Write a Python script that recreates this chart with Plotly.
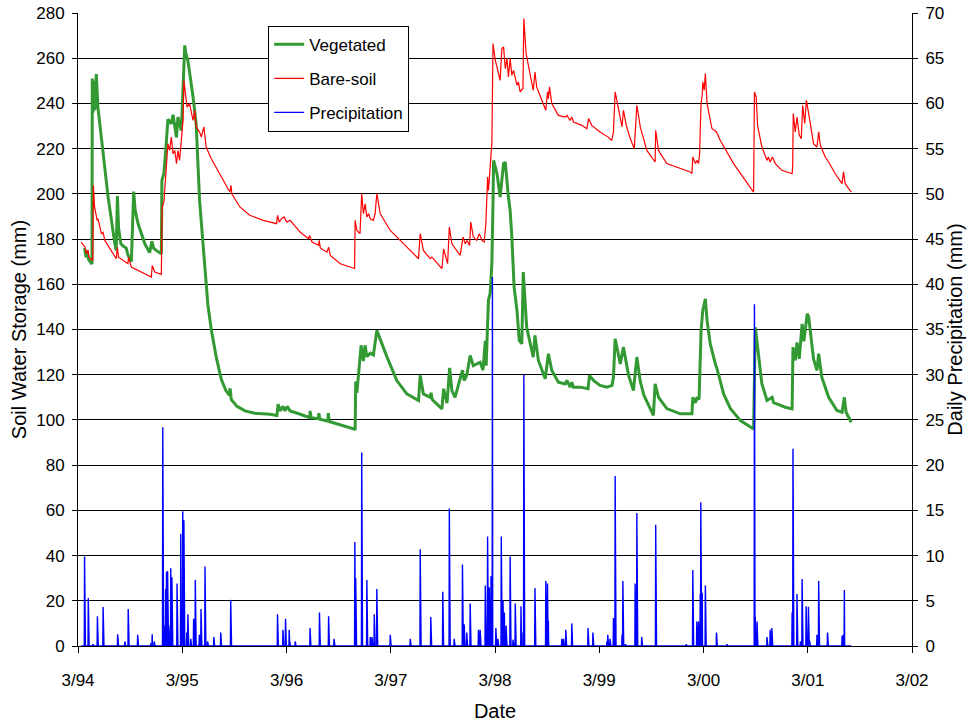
import pandas as pd
import plotly.graph_objects as go

# Soil water storage under vegetated cover (mm)
veg_dates = [
    "1994-03-24", "1994-03-29", "1994-04-02", "1994-04-07", "1994-04-12", "1994-04-19",
    "1994-04-20", "1994-04-23", "1994-04-26", "1994-04-29", "1994-05-04", "1994-05-10",
    "1994-05-28", "1994-06-14", "1994-07-08", "1994-07-13", "1994-07-17", "1994-07-21",
    "1994-07-29", "1994-08-05", "1994-08-17", "1994-08-23", "1994-09-04", "1994-09-12",
    "1994-09-17", "1994-09-27", "1994-10-21", "1994-11-07", "1994-11-15", "1994-11-21",
    "1994-11-30", "1994-12-18", "1994-12-20", "1994-12-27", "1995-01-04", "1995-01-10",
    "1995-01-22", "1995-01-28", "1995-02-09", "1995-02-14", "1995-02-26", "1995-03-04",
    "1995-03-10", "1995-03-14", "1995-03-21", "1995-04-08", "1995-04-19", "1995-05-01",
    "1995-05-13", "1995-05-19", "1995-05-30", "1995-06-11", "1995-06-28", "1995-07-16",
    "1995-08-01", "1995-08-13", "1995-08-16", "1995-08-20", "1995-09-09", "1995-10-07",
    "1995-11-11", "1996-01-03", "1996-01-27", "1996-01-31", "1996-02-07", "1996-02-17",
    "1996-02-24", "1996-03-03", "1996-03-13", "1996-04-18", "1996-05-21", "1996-05-22",
    "1996-05-26", "1996-06-20", "1996-06-22", "1996-06-25", "1996-07-23", "1996-07-25",
    "1996-07-28", "1996-10-24", "1996-10-27", "1996-10-29", "1996-11-02", "1996-11-17",
    "1996-11-25", "1996-12-01", "1996-12-07", "1996-12-19", "1996-12-30", "1997-01-11",
    "1997-02-15", "1997-03-22", "1997-04-26", "1997-06-06", "1997-06-12", "1997-06-23",
    "1997-07-17", "1997-07-20", "1997-07-24", "1997-08-27", "1997-09-02", "1997-09-14",
    "1997-09-23", "1997-10-01", "1997-10-12", "1997-11-07", "1997-11-13", "1997-11-22",
    "1997-12-04", "1997-12-15", "1998-01-08", "1998-01-18", "1998-01-26", "1998-01-29",
    "1998-02-01", "1998-02-06", "1998-02-12", "1998-02-18", "1998-02-22", "1998-02-24",
    "1998-03-08", "1998-03-19", "1998-03-31", "1998-04-06", "1998-04-17", "1998-04-23",
    "1998-04-29", "1998-05-07", "1998-05-17", "1998-05-25", "1998-06-03", "1998-06-08",
    "1998-06-20", "1998-07-02", "1998-07-13", "1998-07-19", "1998-07-31", "1998-08-24",
    "1998-09-04", "1998-09-16", "1998-10-09", "1998-11-02", "1998-11-08", "1998-11-19",
    "1998-11-25", "1998-12-01", "1998-12-24", "1999-01-21", "1999-01-26", "1999-02-09",
    "1999-03-04", "1999-03-28", "1999-04-15", "1999-04-20", "1999-04-26", "1999-05-14",
    "1999-05-25", "1999-06-12", "1999-06-29", "1999-07-11", "1999-07-23", "1999-08-05",
    "1999-09-07", "1999-09-13", "1999-09-25", "1999-10-24", "1999-12-10", "2000-01-20",
    "2000-01-23", "2000-02-01", "2000-02-07", "2000-02-14", "2000-02-18", "2000-02-21",
    "2000-02-27", "2000-03-07", "2000-03-13", "2000-03-24", "2000-04-11", "2000-04-17",
    "2000-05-10", "2000-06-03", "2000-07-08", "2000-08-23", "2000-08-29", "2000-09-04",
    "2000-09-21", "2000-10-09", "2000-10-27", "2000-11-01", "2000-12-12", "2001-01-05",
    "2001-01-08", "2001-01-16", "2001-01-22", "2001-01-30", "2001-02-09", "2001-02-15",
    "2001-02-27", "2001-03-04", "2001-03-21", "2001-04-02", "2001-04-08", "2001-04-19",
    "2001-05-13", "2001-06-11", "2001-06-29", "2001-07-07", "2001-07-13", "2001-07-31",
]
veg_mm = [
    176, 172, 175, 171, 170, 169,
    251, 236, 250, 237, 253, 238,
    218, 199, 178, 175, 199, 185,
    178, 177, 176, 173, 170, 201,
    193, 187, 178, 174, 179, 176,
    175, 173.5, 206, 209, 222, 233,
    231, 235, 225, 234, 228, 247,
    265.7, 262, 259, 243, 231, 197,
    178, 168, 151, 140, 128, 118,
    113, 111, 114, 109, 106, 104,
    103, 102.5, 102, 107, 104, 106,
    104, 106, 104, 102.5, 101, 104,
    101, 100.5, 103, 100.3, 99.5, 103,
    99.3, 96, 95.5, 117, 112, 133,
    126, 133, 128, 129.5, 128.7, 139.6,
    128, 117.4, 111.5, 108.6, 119.7, 111.5,
    110, 112, 109, 104.9, 113.8, 107.4,
    123, 113, 110, 122, 117.4, 119.7,
    128.5, 124, 125.5, 122, 135, 124,
    133.7, 153, 156, 169, 196, 214.8,
    209, 198.6, 213.4, 214, 198.6, 192.7,
    181, 158.7, 148.4, 135.2, 133.7, 165.4,
    141, 133.7, 127.8, 137.4, 126.3, 118.2,
    129.3, 121.9, 116.7, 115.9, 117.5, 114.5,
    116.7, 114.5, 114.5, 113.8, 119.7, 117.5,
    115.3, 114.5, 115.3, 119, 135.9, 124.8,
    132.2, 119.7, 113, 127.8, 117, 110.8,
    102, 116, 110, 105, 102.7, 102.7,
    110, 107.6, 110, 109, 122.6, 139.6,
    148.4, 153.6, 144, 133.7, 124.8, 122.6,
    111.5, 105, 99.7, 96, 141, 133.7,
    116, 108.6, 110, 107.6, 105.6, 104.9,
    132.2, 126.3, 134.3, 127, 142.5, 134.8,
    147, 145.6, 127, 121.9, 129.3, 118.9,
    110, 104.2, 103.4, 110, 103.4, 99,
]

# Soil water storage under bare soil (mm)
bare_dates = [
    "1994-03-12", "1994-03-26", "1994-03-30", "1994-04-05", "1994-04-08", "1994-04-16",
    "1994-04-22", "1994-04-24", "1994-04-28", "1994-05-07", "1994-05-10", "1994-05-22",
    "1994-05-28", "1994-06-03", "1994-06-20", "1994-07-13", "1994-07-17", "1994-07-21",
    "1994-08-23", "1994-08-25", "1994-09-04", "1994-10-21", "1994-11-13", "1994-11-16",
    "1994-11-25", "1994-12-18", "1994-12-21", "1994-12-27", "1995-01-01", "1995-01-10",
    "1995-01-16", "1995-01-22", "1995-01-28", "1995-02-03", "1995-02-09", "1995-02-14",
    "1995-02-20", "1995-02-26", "1995-03-04", "1995-03-07", "1995-03-12", "1995-03-18",
    "1995-03-27", "1995-04-08", "1995-04-14", "1995-04-19", "1995-05-01", "1995-05-07",
    "1995-05-16", "1995-05-24", "1995-06-11", "1995-07-22", "1995-08-15", "1995-08-19",
    "1995-08-22", "1995-09-19", "1995-10-24", "1995-12-10", "1996-01-26", "1996-01-29",
    "1996-02-04", "1996-02-12", "1996-02-21", "1996-03-02", "1996-03-13", "1996-04-18",
    "1996-05-17", "1996-05-20", "1996-05-29", "1996-06-21", "1996-06-23", "1996-06-27",
    "1996-07-20", "1996-07-26", "1996-08-01", "1996-09-05", "1996-10-21", "1996-10-25",
    "1996-10-27", "1996-11-02", "1996-11-13", "1996-11-19", "1996-11-25", "1996-12-01",
    "1996-12-07", "1996-12-13", "1996-12-19", "1996-12-30", "1997-01-05", "1997-01-11",
    "1997-01-23", "1997-02-27", "1997-04-15", "1997-06-06", "1997-06-12", "1997-06-23",
    "1997-07-17", "1997-07-23", "1997-08-27", "1997-09-02", "1997-09-16", "1997-09-22",
    "1997-10-01", "1997-10-30", "1997-11-09", "1997-11-17", "1997-11-23", "1997-12-02",
    "1997-12-06", "1997-12-15", "1997-12-27", "1998-01-05", "1998-01-14", "1998-01-22",
    "1998-01-28", "1998-02-03", "1998-02-06", "1998-02-10", "1998-02-14", "1998-02-18",
    "1998-02-22", "1998-03-02", "1998-03-19", "1998-03-25", "1998-03-31", "1998-04-06",
    "1998-04-12", "1998-04-17", "1998-04-23", "1998-04-29", "1998-05-05", "1998-05-17",
    "1998-05-22", "1998-05-28", "1998-06-07", "1998-06-10", "1998-06-18", "1998-07-02",
    "1998-07-13", "1998-07-19", "1998-07-25", "1998-08-12", "1998-08-26", "1998-09-01",
    "1998-09-04", "1998-09-08", "1998-09-16", "1998-10-09", "1998-11-02", "1998-11-08",
    "1998-11-19", "1998-11-25", "1998-12-01", "1998-12-30", "1999-01-17", "1999-01-23",
    "1999-02-03", "1999-03-04", "1999-04-02", "1999-04-14", "1999-04-20", "1999-04-26",
    "1999-05-08", "1999-05-20", "1999-05-25", "1999-06-04", "1999-06-18", "1999-07-02",
    "1999-07-11", "1999-07-23", "1999-08-15", "1999-09-13", "1999-09-15", "1999-09-25",
    "1999-10-24", "1999-12-10", "2000-01-14", "2000-01-20", "2000-01-23", "2000-02-01",
    "2000-02-07", "2000-02-12", "2000-02-16", "2000-02-18", "2000-02-21", "2000-02-25",
    "2000-02-27", "2000-03-03", "2000-03-07", "2000-03-13", "2000-03-30", "2000-04-15",
    "2000-04-28", "2000-06-14", "2000-07-31", "2000-08-23", "2000-08-26", "2000-09-01",
    "2000-09-06", "2000-09-21", "2000-10-09", "2000-10-14", "2000-10-20", "2000-10-28",
    "2000-11-07", "2000-11-30", "2001-01-05", "2001-01-07", "2001-01-09", "2001-01-16",
    "2001-01-22", "2001-01-30", "2001-02-06", "2001-02-11", "2001-02-18", "2001-02-24",
    "2001-03-04", "2001-03-21", "2001-04-02", "2001-04-08", "2001-04-14", "2001-05-01",
    "2001-05-13", "2001-06-05", "2001-06-29", "2001-07-04", "2001-07-10", "2001-07-31",
]
bare_mm = [
    178.7, 176.4, 173.5, 175, 172, 171,
    170.5, 203.8, 194.2, 188.3, 189, 182.4,
    183, 179.4, 175.7, 171.3, 176.4, 172,
    169.1, 172, 167.6, 164.7, 163.2, 168.3,
    165.4, 164.4, 194.2, 196.4, 205.9, 222.2,
    219.2, 225.1, 217.7, 219.2, 213.3, 219.2,
    214.8, 225.1, 232.5, 250.2, 244.3, 238.4,
    239.9, 232.5, 236.9, 229.6, 227.3, 225.1,
    229.6, 220.7, 215.5, 206, 200.8, 203.8,
    200, 194.2, 190.5, 188.3, 186.8, 190.5,
    187.5, 189, 189.8, 187.5, 188.3, 183,
    180.2, 181.6, 178.7, 177.2, 179.4, 176.1,
    174.2, 176.4, 172.8, 169.1, 167.4, 167,
    188.3, 183.8, 182.4, 200.1, 191.2, 195.6,
    189.8, 191.2, 189, 188.3, 191.2, 200.1,
    191.2, 183.8, 177.9, 171.3, 182.4, 175,
    171.3, 172, 166.9, 175.7, 169.1, 185.3,
    177.9, 172.8, 180.9, 177.9, 179.4, 177.2,
    187.5, 181, 179.4, 182.4, 179.4, 178.7,
    186.8, 207.4, 201.5, 209, 213.4, 222.2,
    266.5, 259.1, 250.2, 264.3, 265, 255.4,
    259.8, 251.7, 259.8, 252.4, 254.6, 248,
    249.5, 245.1, 246.6, 277.6, 262, 253.1,
    245.8, 253.9, 247.3, 241.4, 237, 245.1,
    242.1, 247.3, 239.9, 234.7, 234, 234.7,
    232.5, 234, 231.8, 230.3, 228.8, 233.3,
    230.3, 227.4, 225.1, 223.6, 227.4, 245.1,
    237, 229.6, 237, 230.3, 224.4, 220,
    239.2, 229.6, 219.2, 214.1, 228.1, 219.2,
    213.4, 211.2, 209.7, 209, 216.3, 213.4,
    214.8, 213.4, 217.8, 228.1, 239.9, 243.6,
    249.5, 245.8, 253.2, 239.9, 228.9, 227.4,
    223.7, 213.4, 205.2, 200.8, 245.1, 242.8,
    230.3, 220.7, 214.8, 216.3, 214.1, 216.3,
    213.4, 210.4, 208.9, 212.6, 235.5, 227.4,
    234, 226, 224.4, 239.2, 231.1, 241.4,
    235.5, 222.2, 220.7, 227.4, 221.5, 216.3,
    214.1, 208.9, 204.5, 209.7, 204.5, 200.8,
]

# Daily precipitation on rain days (mm)
precip_dates = [
    "1994-03-24", "1994-04-06", "1994-04-22", "1994-05-08", "1994-05-28", "1994-07-18",
    "1994-08-12", "1994-08-24", "1994-09-26", "1994-11-11", "1994-11-16", "1994-11-23",
    "1994-12-23", "1994-12-27", "1995-01-02", "1995-01-05", "1995-01-09", "1995-01-13",
    "1995-01-20", "1995-01-24", "1995-02-11", "1995-02-24", "1995-02-27", "1995-03-03",
    "1995-03-07", "1995-03-17", "1995-03-21", "1995-03-31", "1995-04-10", "1995-04-16",
    "1995-04-30", "1995-05-06", "1995-05-20", "1995-05-29", "1995-06-20", "1995-07-14",
    "1995-08-18", "1996-01-29", "1996-02-17", "1996-02-26", "1996-03-10", "1996-03-13",
    "1996-03-31", "1996-05-22", "1996-06-24", "1996-07-26", "1996-08-14", "1996-10-26",
    "1996-10-29", "1996-11-19", "1996-12-07", "1996-12-19", "1996-12-25", "1997-01-02",
    "1997-01-11", "1997-02-27", "1997-05-08", "1997-06-12", "1997-07-19", "1997-08-30",
    "1997-09-22", "1997-10-09", "1997-11-07", "1997-11-13", "1997-11-22", "1997-12-04",
    "1998-01-02", "1998-01-08", "1998-01-26", "1998-02-03", "1998-02-09", "1998-02-15",
    "1998-02-20", "1998-03-04", "1998-03-11", "1998-03-23", "1998-03-29", "1998-04-03",
    "1998-04-09", "1998-04-23", "1998-05-03", "1998-05-11", "1998-05-31", "1998-06-03",
    "1998-06-10", "1998-07-19", "1998-08-26", "1998-09-01", "1998-09-04", "1998-10-21",
    "1998-10-27", "1998-11-04", "1998-11-25", "1999-01-21", "1999-02-07", "1999-03-28",
    "1999-03-31", "1999-04-08", "1999-04-20", "1999-04-26", "1999-05-20", "1999-05-23",
    "1999-06-01", "1999-07-05", "1999-07-11", "1999-07-28", "1999-09-15", "1999-12-31",
    "2000-01-23", "2000-02-06", "2000-02-12", "2000-02-18", "2000-02-20", "2000-02-25",
    "2000-03-07", "2000-04-15", "2000-05-22", "2000-08-26", "2000-08-29", "2000-09-04",
    "2000-10-09", "2000-10-20", "2000-10-26", "2001-01-05", "2001-01-08", "2001-01-22",
    "2001-02-03", "2001-02-09", "2001-02-23", "2001-03-03", "2001-03-07", "2001-04-02",
    "2001-04-08", "2001-05-09", "2001-06-29", "2001-07-02", "2001-07-07",
]
precip_mm = [
    9.9, 5.3, 0.2, 3.3, 4.3, 1.3,
    0.5, 4.1, 1.25, 0.3, 1.3, 0.5,
    24.2, 2.25, 6.3, 8.2, 8.3, 2.25,
    8.6, 7.6, 6.9, 12.4, 0.8, 14.9,
    13.9, 1.5, 3.5, 0.8, 3.0, 7.3,
    1.25, 4.1, 8.8, 0.5, 1.0, 1.5,
    5.1, 3.5, 1.8, 3.0, 1.8, 0.4,
    0.5, 2.0, 3.7, 3.3, 0.8, 11.5,
    7.5, 21.4, 7.3, 1.0, 1.0, 3.5,
    6.3, 1.25, 0.8, 10.7, 3.2, 6.0,
    15.2, 0.8, 9.0, 2.4, 1.5, 4.7,
    1.8, 1.8, 6.7, 12.1, 6.5, 7.7,
    40.8, 2.0, 0.8, 12.1, 5.0, 3.7,
    2.25, 9.9, 0.7, 4.7, 4.4, 1.5,
    30.0, 6.4, 7.2, 6.9, 2.8, 0.8,
    0.8, 1.8, 2.5, 2.0, 1.5, 0.5,
    1.25, 0.8, 3.1, 18.8, 1.25, 7.2,
    0.2, 6.9, 14.7, 1.0, 13.4, 0.2,
    8.4, 2.7, 2.7, 5.75, 15.9, 5.9,
    6.7, 1.5, 0.2, 37.8, 3.2, 2.7,
    1.0, 1.8, 2.0, 3.7, 21.8, 5.75,
    0.5, 7.4, 4.4, 4.35, 0.6, 1.25,
    7.2, 1.5, 1.1, 1.25, 6.2,
]

record_start = "1994-03-12"
record_end = "2001-07-31"

# Full daily rainfall record: days without an entry had no rain
rain = pd.Series(precip_mm, index=pd.to_datetime(precip_dates))
rain = rain.groupby(level=0).sum()
all_days = pd.date_range(record_start, record_end, freq="D")
rain_daily = rain.reindex(all_days, fill_value=0.0)

FONT = "Liberation Sans, Arial, sans-serif"

fig = go.Figure()
fig.add_trace(go.Scatter(
    x=pd.to_datetime(veg_dates), y=veg_mm, mode="lines", name="Vegetated",
    legendgroup="veg", line=dict(color="#339933", width=3),
))
fig.add_trace(go.Scatter(
    x=pd.to_datetime(bare_dates), y=bare_mm, mode="lines", name="Bare-soil",
    legendgroup="bare", line=dict(color="#FF0000", width=1.2),
))
fig.add_trace(go.Scatter(
    x=rain_daily.index, y=rain_daily.values, mode="lines", name="Precipitation",
    legendgroup="rain", yaxis="y2", line=dict(color="#0000FF", width=1.4),
))

fig.update_layout(
    width=974, height=723, autosize=False,
    margin=dict(l=78, r=62, t=13, b=77),
    paper_bgcolor="white", plot_bgcolor="white",
    font=dict(family=FONT, size=17, color="black"),
    showlegend=True,
    legend=dict(
        x=0.228, y=0.980, xanchor="left", yanchor="top",
        bgcolor="white", bordercolor="black", borderwidth=1,
        font=dict(family=FONT, size=17, color="black"),
        itemwidth=30, tracegroupgap=9,
    ),
    xaxis=dict(
        type="date", range=["1994-03-01", "2002-03-01"],
        tick0="1994-03-01", dtick="M12", tickformat="%-m/%y",
        ticks="outside", ticklen=6, tickcolor="black",
        ticklabelstandoff=13, automargin=False,
        showline=True, linecolor="black", linewidth=1,
        showgrid=False, zeroline=False,
        title=dict(text="Date", standoff=14),
    ),
    yaxis=dict(
        range=[0, 280], dtick=20, tick0=0,
        ticks="outside", ticklen=5, tickcolor="black",
        ticklabelstandoff=4, automargin=False,
        showline=True, linecolor="black", linewidth=1,
        showgrid=True, gridcolor="black", gridwidth=1,
        zeroline=False,
        title=dict(text="Soil Water Storage (mm)", standoff=4),
    ),
    yaxis2=dict(
        overlaying="y", side="right",
        range=[0, 70], dtick=5, tick0=0,
        ticks="outside", ticklen=5, tickcolor="black",
        ticklabelstandoff=4, automargin=False,
        showline=True, linecolor="black", linewidth=1,
        showgrid=False, zeroline=False,
        title=dict(text="Daily Precipitation (mm)", standoff=4),
    ),
)

fig.write_html("out.html")
